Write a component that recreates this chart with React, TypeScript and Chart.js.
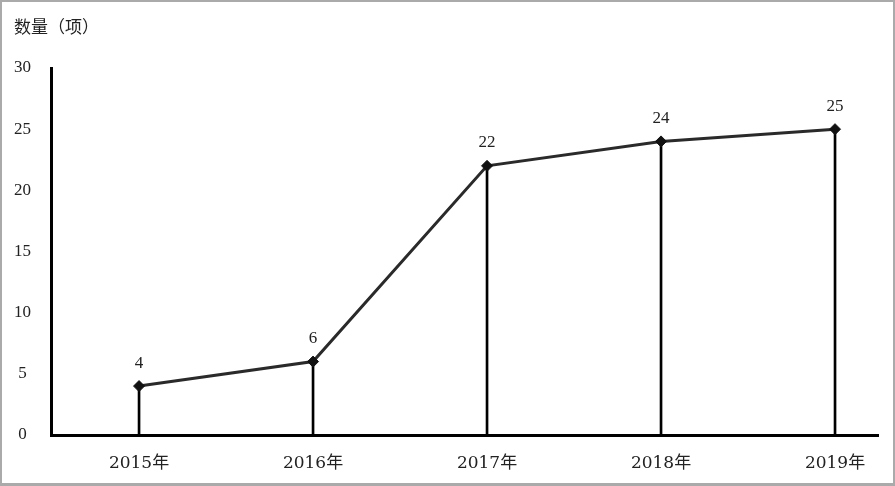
import React, { useEffect, useRef } from "react";
import { Chart, registerables } from "chart.js";

Chart.register(...registerables);

const categories = ["2015年", "2016年", "2017年", "2018年", "2019年"];
const counts = [4, 6, 22, 24, 25];
const yTicks = [0, 5, 10, 15, 20, 25, 30];
const titleText = "数量（项）";

const SERIF = "'DejaVu Serif', 'Liberation Serif', 'Noto Sans CJK SC', serif";

const labelsPlugin = {
  id: "pointLabels",
  afterDatasetsDraw(chart: any) {
    const ctx = chart.ctx;
    const meta = chart.getDatasetMeta(1);
    ctx.save();
    ctx.font = `17px 'Liberation Serif', 'DejaVu Serif', serif`;
    ctx.fillStyle = "#222";
    ctx.textAlign = "center";
    ctx.textBaseline = "middle";
    meta.data.forEach((pt: any, i: number) => {
      ctx.fillText(String(counts[i]), pt.x, pt.y - 23);
    });
    ctx.font = `17px 'Noto Sans CJK SC', sans-serif`;
    ctx.textAlign = "left";
    ctx.fillText(titleText, 14, 27);
    ctx.restore();
  },
};

export default function App() {
  const ref = useRef<HTMLCanvasElement | null>(null);
  useEffect(() => {
    if (!ref.current) return;
    const pts = counts.map((v, i) => ({ x: i, y: v }));
    const chart = new Chart(ref.current, {
      type: "line",
      data: {
        datasets: [
          {
            type: "bar",
            data: pts,
            backgroundColor: "#000",
            barThickness: 2,
            order: 2,
          } as any,
          {
            type: "line",
            data: pts,
            borderColor: "#2a2a2a",
            borderWidth: 3,
            pointStyle: "rectRot",
            pointRadius: 5.5,
            pointBackgroundColor: "#111",
            pointBorderColor: "#111",
            pointBorderWidth: 1,
            tension: 0,
            order: 1,
          },
        ],
      },
      options: {
        animation: false,
        responsive: true,
        maintainAspectRatio: false,
        layout: { padding: { top: 68, right: 17, left: 0, bottom: 0 } },
        plugins: { legend: { display: false }, tooltip: { enabled: false } },
        scales: {
          x: {
            type: "linear",
            min: -0.506,
            max: 4.247,
            offset: false,
            grid: { display: false, drawTicks: false, offset: false },
            border: { display: true, color: "#000", width: 3 },
            afterBuildTicks: (scale: any) => {
              scale.ticks = categories.map((_, i) => ({ value: i }));
            },
            afterFit: (scale: any) => {
              scale.height = 51;
            },
            ticks: {
              autoSkip: false,
              maxRotation: 0,
              padding: 18,
              color: "#222",
              font: { size: 17, family: SERIF },
              callback: (v: any) => categories[v] ?? "",
            },
          },
          y: {
            min: 0,
            max: 30,
            grid: { display: false, drawTicks: false },
            border: { display: true, color: "#000", width: 3 },
            afterBuildTicks: (scale: any) => {
              scale.ticks = yTicks.map((v) => ({ value: v }));
            },
            afterFit: (scale: any) => {
              scale.width = 51;
            },
            ticks: {
              padding: 20,
              crossAlign: "center",
              color: "#222",
              font: { size: 17, family: "'Liberation Serif', 'DejaVu Serif', serif" },
            },
          },
        },
      },
      plugins: [labelsPlugin],
    });
    return () => chart.destroy();
  }, []);

  return (
    <div style={{ position: "fixed", left: 0, top: 0, width: 895, height: 486, background: "#fff" }}>
      <canvas ref={ref} />
      <div
        style={{
          position: "absolute",
          inset: 0,
          border: "2px solid #aaaaaa",
          borderBottomWidth: 3,
          boxSizing: "border-box",
          pointerEvents: "none",
        }}
      />
    </div>
  );
}
